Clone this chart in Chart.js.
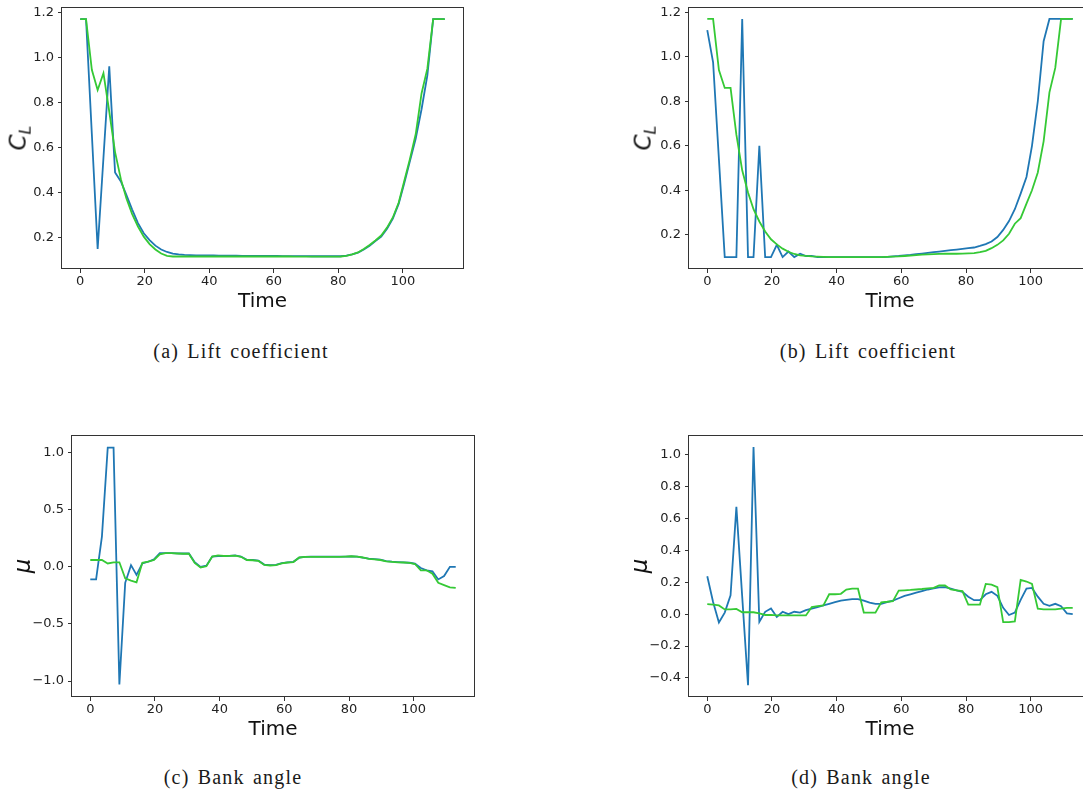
<!DOCTYPE html>
<html>
<head>
<meta charset="utf-8">
<script src="https://cdn.jsdelivr.net/npm/chart.js@4.4.0/dist/chart.umd.min.js"></script>
<style>
  html, body { margin: 0; padding: 0; background: #fff; overflow: hidden; }
  body { width: 1083px; height: 797px; position: relative; }
  canvas { position: absolute; display: block; }
  .ylab {
    position: absolute; font-family: 'DejaVu Sans'; font-style: italic; color: #111;
    transform: translate(-50%, -50%) rotate(-90deg); white-space: nowrap; line-height: 1;
  }
  .ylab sub { font-size: 16px; vertical-align: -0.3em; }
  .cap {
    position: absolute; font-family: 'Liberation Serif'; font-size: 20px; color: #1a1a1a;
    transform: translate(-50%, -50%); white-space: nowrap; letter-spacing: 1.2px; word-spacing: 2px;
  }
</style>
</head>
<body>
<canvas id="chA" width="480" height="320" style="left:0;top:0"></canvas>
<canvas id="chB" width="480" height="320" style="left:620px;top:0"></canvas>
<canvas id="chC" width="490" height="320" style="left:0;top:428px"></canvas>
<canvas id="chD" width="480" height="320" style="left:620px;top:428px"></canvas>

<div class="ylab" style="left:20px;top:138px;font-size:23px">C<sub>L</sub></div>
<div class="ylab" style="left:645px;top:138px;font-size:23px">C<sub>L</sub></div>
<div class="ylab" style="left:22px;top:566px;font-size:23px">μ</div>
<div class="ylab" style="left:639px;top:566px;font-size:23px">μ</div>

<div class="cap" style="left:241px;top:351px">(a) Lift coefficient</div>
<div class="cap" style="left:868px;top:351px">(b) Lift coefficient</div>
<div class="cap" style="left:233px;top:777px">(c) Bank angle</div>
<div class="cap" style="left:861px;top:777px">(d) Bank angle</div>

<script>
// time samples (shared by all four panels)
const times = [0, 1.8, 3.6, 5.4, 7.2, 9.0, 10.8, 12.6, 14.3, 16.1, 17.9, 19.7, 21.5, 23.3, 25.1, 26.9,
  28.7, 30.5, 32.3, 34.1, 35.9, 37.7, 39.5, 41.3, 43.0, 44.8, 46.6, 48.4, 50.2, 52.0, 53.8, 55.6,
  57.4, 59.2, 61.0, 62.8, 64.6, 66.4, 68.2, 70.0, 71.7, 73.5, 75.3, 77.1, 78.9, 80.7, 82.5, 84.3,
  86.1, 87.9, 89.7, 91.5, 93.3, 95.1, 96.9, 98.7, 100.4, 102.2, 104.0, 105.8, 107.6, 109.4, 111.2, 113.0];

// (a) lift coefficient
const clBlueA = [1.17, 1.17, 0.66, 0.15, 0.555, 0.96, 0.49, 0.45, 0.39, 0.325,
  0.265, 0.22, 0.19, 0.165, 0.148, 0.137, 0.13, 0.126, 0.124, 0.123,
  0.122, 0.122, 0.122, 0.122, 0.121, 0.121, 0.121, 0.121, 0.12, 0.12,
  0.12, 0.12, 0.12, 0.12, 0.12, 0.119, 0.119, 0.119, 0.119, 0.119,
  0.118, 0.118, 0.118, 0.118, 0.118, 0.118, 0.121, 0.126, 0.134, 0.148,
  0.165, 0.185, 0.205, 0.24, 0.285, 0.35, 0.44, 0.54, 0.64, 0.77, 0.92, 1.17, 1.17, 1.17];
const clGreenA = [1.17, 1.17, 0.945, 0.855, 0.93, 0.76, 0.58, 0.46, 0.375, 0.305,
  0.25, 0.205, 0.172, 0.148, 0.13, 0.12, 0.117, 0.117, 0.117, 0.117,
  0.117, 0.117, 0.117, 0.117, 0.117, 0.117, 0.117, 0.117, 0.117, 0.117,
  0.117, 0.117, 0.117, 0.117, 0.117, 0.117, 0.117, 0.116, 0.116, 0.116,
  0.116, 0.116, 0.116, 0.116, 0.116, 0.117, 0.12, 0.126, 0.135, 0.15,
  0.168, 0.188, 0.21, 0.245, 0.29, 0.355, 0.45, 0.55, 0.66, 0.84, 0.95, 1.17, 1.17, 1.17];

// (b) lift coefficient
const clBlueB = [1.12, 0.975, 0.54, 0.1, 0.1, 0.1, 1.17, 0.1, 0.1, 0.6,
  0.1, 0.1, 0.155, 0.1, 0.125, 0.1, 0.115, 0.105, 0.105, 0.1,
  0.1, 0.1, 0.1, 0.1, 0.1, 0.1, 0.1, 0.1, 0.1, 0.1,
  0.1, 0.101, 0.103, 0.105, 0.108, 0.11, 0.113, 0.116, 0.119, 0.122,
  0.125, 0.128, 0.131, 0.134, 0.137, 0.14, 0.143, 0.15, 0.158, 0.17,
  0.19, 0.222, 0.262, 0.315, 0.385, 0.46, 0.6, 0.8, 1.07, 1.17, 1.17, 1.17, 1.17, 1.17];
const clGreenB = [1.17, 1.17, 0.94, 0.86, 0.86, 0.65, 0.49, 0.39, 0.315, 0.26,
  0.215, 0.18, 0.157, 0.138, 0.124, 0.114, 0.108, 0.105, 0.103, 0.102,
  0.101, 0.1, 0.1, 0.1, 0.1, 0.1, 0.1, 0.1, 0.1, 0.1,
  0.1, 0.101, 0.102, 0.103, 0.105, 0.107, 0.109, 0.111, 0.112, 0.113,
  0.114, 0.115, 0.115, 0.115, 0.116, 0.117, 0.118, 0.122, 0.128, 0.14,
  0.155, 0.175, 0.205, 0.25, 0.275, 0.34, 0.4, 0.48, 0.62, 0.84, 0.95, 1.17, 1.17, 1.17];

// (c) bank angle
const muBlueC = [-0.11, -0.11, 0.265, 1.045, 1.045, -1.03, -0.14, 0.015, -0.07, 0.03,
  0.045, 0.065, 0.12, 0.12, 0.12, 0.118, 0.117, 0.117, 0.04, 0.0,
  0.01, 0.09, 0.095, 0.095, 0.097, 0.1, 0.09, 0.062, 0.06, 0.055,
  0.02, 0.015, 0.017, 0.033, 0.04, 0.044, 0.08, 0.088, 0.09, 0.09,
  0.09, 0.09, 0.09, 0.09, 0.09, 0.092, 0.09, 0.08, 0.072, 0.068,
  0.064, 0.05, 0.045, 0.042, 0.04, 0.036, 0.028, -0.01, -0.03, -0.04, -0.11, -0.08, 0.0, 0.0];
const muGreenC = [0.06, 0.06, 0.06, 0.03, 0.04, 0.04, -0.1, -0.12, -0.135, 0.035,
  0.045, 0.06, 0.11, 0.12, 0.12, 0.117, 0.115, 0.115, 0.035, -0.005,
  0.005, 0.09, 0.1, 0.095, 0.097, 0.098, 0.088, 0.06, 0.058, 0.052,
  0.017, 0.012, 0.015, 0.03, 0.038, 0.042, 0.082, 0.087, 0.088, 0.088,
  0.088, 0.088, 0.087, 0.088, 0.09, 0.093, 0.09, 0.082, 0.07, 0.066,
  0.06, 0.048, 0.044, 0.04, 0.038, 0.034, 0.025, -0.03, -0.03, -0.06, -0.14, -0.16, -0.18, -0.185];

// (d) bank angle
const muBlueD = [0.238, 0.077, -0.052, 0.01, 0.119, 0.674, 0.11, -0.446, 1.05, -0.048,
  0.015, 0.036, -0.017, 0.015, 0.0, 0.015, 0.01, 0.025, 0.035, 0.045,
  0.055, 0.065, 0.075, 0.085, 0.09, 0.095, 0.095, 0.085, 0.072, 0.065,
  0.065, 0.075, 0.085, 0.1, 0.115, 0.125, 0.135, 0.145, 0.155, 0.162,
  0.168, 0.17, 0.16, 0.15, 0.14, 0.11, 0.088, 0.088, 0.125, 0.14,
  0.115, 0.04, -0.005, 0.01, 0.09, 0.16, 0.165, 0.11, 0.065, 0.052, 0.065, 0.05, 0.005, 0.0];
const muGreenD = [0.063, 0.06, 0.055, 0.03, 0.03, 0.033, 0.012, 0.012, 0.012, 0.005,
  -0.005, -0.005, -0.008, -0.008, -0.008, -0.008, -0.008, -0.008, 0.045, 0.05,
  0.055, 0.125, 0.125, 0.128, 0.155, 0.16, 0.16, 0.01, 0.01, 0.01,
  0.075, 0.078, 0.082, 0.148, 0.15, 0.152, 0.155, 0.158, 0.162, 0.165,
  0.18, 0.18, 0.155, 0.15, 0.145, 0.06, 0.06, 0.06, 0.19, 0.185,
  0.17, -0.05, -0.05, -0.045, 0.215, 0.205, 0.19, 0.035, 0.03, 0.03, 0.03, 0.035, 0.04, 0.04];

// tick labels
const timeTicks = [0, 20, 40, 60, 80, 100];
const clTicks = [0.2, 0.4, 0.6, 0.8, 1.0, 1.2];
const muTicksC = [-1.0, -0.5, 0.0, 0.5, 1.0];
const muTicksD = [-0.4, -0.2, 0.0, 0.2, 0.4, 0.6, 0.8, 1.0];

const BLUE = '#1f77b4';
const GREEN = '#35c935';
const AXIS = '#333333';
const fmt = (v) => v.toFixed(1).replace('-', '\u2212');

// spines on all four sides, like matplotlib
const frame = {
  id: 'frame',
  afterDraw(chart) {
    const { ctx, chartArea: a } = chart;
    ctx.save();
    ctx.strokeStyle = AXIS;
    ctx.lineWidth = 1;
    ctx.strokeRect(Math.round(a.left) - 0.5, Math.round(a.top) + 0.5,
      Math.round(a.right - a.left) + 1, Math.round(a.bottom - a.top) - 1);
    ctx.restore();
  }
};

const pts = (ys) => times.map((t, i) => ({ x: t, y: ys[i] }));

function makePanel(id, blue, green, yTicks, yMin, yMax, yWidth, padRight) {
  const tickFont = { family: 'DejaVu Sans', size: 13 };
  return new Chart(document.getElementById(id), {
    type: 'line',
    data: {
      datasets: [
        // green is plotted second in the original, so it sits on top
        { data: pts(blue), borderColor: BLUE, borderWidth: 1.8, pointRadius: 0, tension: 0, order: 2 },
        { data: pts(green), borderColor: GREEN, borderWidth: 1.8, pointRadius: 0, tension: 0, order: 1 },
      ],
    },
    options: {
      responsive: false,
      animation: false,
      layout: { padding: { top: 7, right: padRight, left: 0, bottom: 0 } },
      plugins: { legend: { display: false }, tooltip: { enabled: false } },
      scales: {
        x: {
          type: 'linear', min: -5.65, max: 118.65,
          afterBuildTicks: (s) => { s.ticks = timeTicks.map((v) => ({ value: v })); },
          afterFit: (s) => { s.height = 51; s.paddingLeft = 0; s.paddingRight = 0; },
          grid: { drawOnChartArea: false, drawTicks: true, tickLength: 4, color: AXIS },
          border: { display: false },
          ticks: { font: tickFont, color: '#222', padding: 1, maxRotation: 0, autoSkip: false,
                   callback: (v) => String(v) },
          title: { display: true, text: 'Time', color: '#111',
                   font: { family: 'DejaVu Sans', size: 20 }, padding: { top: 0, bottom: 6 } },
        },
        y: {
          type: 'linear', min: yMin, max: yMax,
          afterBuildTicks: (s) => { s.ticks = yTicks.map((v) => ({ value: v })); },
          afterFit: (s) => { s.width = yWidth; s.paddingTop = 0; s.paddingBottom = 0; },
          grid: { drawOnChartArea: false, drawTicks: true, tickLength: 4, color: AXIS },
          border: { display: false },
          ticks: { font: tickFont, color: '#222', padding: 4, autoSkip: false, callback: fmt },
        },
      },
    },
    plugins: [frame],
  });
}

makePanel('chA', clBlueA, clGreenA, clTicks, 0.0615, 1.2235, 62, 17);
makePanel('chB', clBlueB, clGreenB, clTicks, 0.0465, 1.2235, 69, 9);
makePanel('chC', muBlueC, muGreenC, muTicksC, -1.14, 1.155, 72, 16);
makePanel('chD', muBlueD, muGreenD, muTicksD, -0.52, 1.125, 69, 9);
</script>
</body>
</html>
